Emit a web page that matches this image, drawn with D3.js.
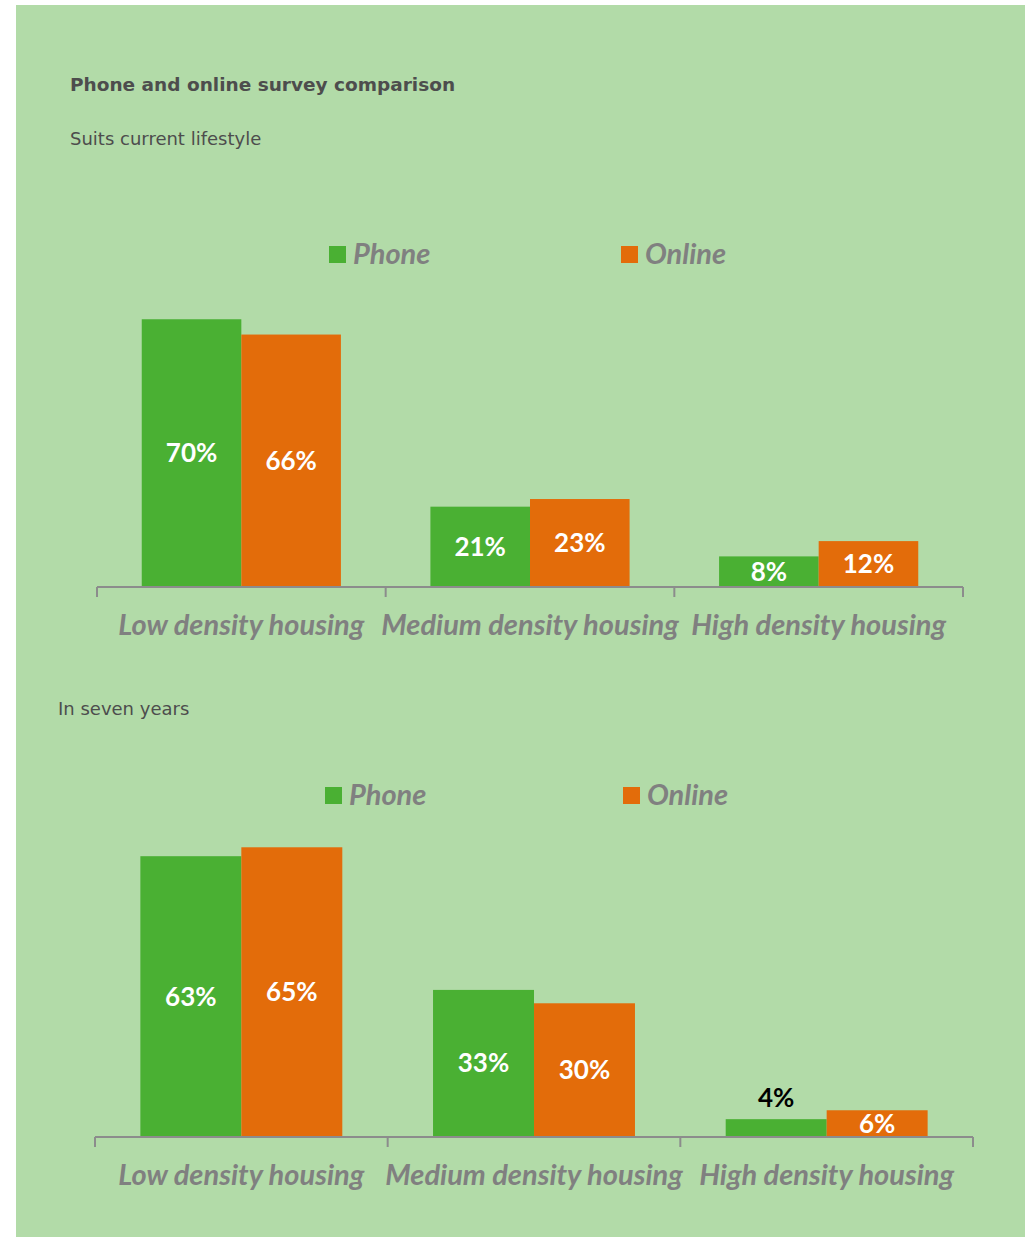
<!DOCTYPE html>
<html>
<head>
<meta charset="utf-8">
<script src="https://cdn.jsdelivr.net/npm/d3@7"></script>
<style>
  html, body { margin: 0; padding: 0; background: #ffffff; }
  svg { display: block; }
</style>
</head>
<body>
<svg id="chart" width="1031" height="1237"></svg>
<script>
// Survey data: share of respondents choosing each housing type
const categories = ["Low density housing", "Medium density housing", "High density housing"];
const seriesNames = ["Phone", "Online"];
const currentPhone = [70, 21, 8];
const currentOnline = [66, 23, 12];
const sevenPhone = [63, 33, 4];
const sevenOnline = [65, 30, 6];

const colors = { Phone: "#4ab033", Online: "#e36c0a" };
const bg = "#b2dba8";
const grey = "#808080";
const textDark = "#4d4d4d";

const svg = d3.select("#chart");

// panel background
svg.append("rect")
  .attr("x", 16).attr("y", 5)
  .attr("width", 1009).attr("height", 1232)
  .attr("fill", bg);

svg.append("text")
  .attr("x", 70).attr("y", 91)
  .attr("fill", textDark)
  .style("font-family", "'DejaVu Sans', sans-serif")
  .style("font-weight", "bold")
  .style("font-size", "18.5px")
  .text("Phone and online survey comparison");

function drawChart(cfg) {
  const { subtitle, subX, subY, phone, online, x0, x1, baseline, yMax, top, legend } = cfg;

  svg.append("text")
    .attr("x", subX).attr("y", subY)
    .attr("fill", textDark)
    .style("font-family", "'DejaVu Sans', sans-serif")
    .style("font-size", "18px")
    .text(subtitle);

  const x = d3.scaleBand().domain(categories).range([x0, x1]).padding(0);
  const bw = x.bandwidth();
  const xs = d3.scaleBand().domain(seriesNames).range([bw * 0.155, bw * 0.845]).padding(0);
  const y = d3.scaleLinear().domain([0, yMax]).range([baseline, top]);

  const rows = categories.map((c, i) => ({ cat: c, Phone: phone[i], Online: online[i] }));

  const g = svg.append("g");
  const groups = g.selectAll("g.cat").data(rows).join("g")
    .attr("transform", d => `translate(${x(d.cat)},0)`);

  const cells = groups.selectAll("g.bar")
    .data(d => seriesNames.map(s => ({ s, v: d[s] })))
    .join("g");

  cells.append("rect")
    .attr("x", d => xs(d.s))
    .attr("y", d => y(d.v))
    .attr("width", xs.bandwidth())
    .attr("height", d => baseline - y(d.v))
    .attr("fill", d => colors[d.s]);

  // value labels: centred in the bar, or above it when the bar is too short
  cells.append("text")
    .attr("x", d => xs(d.s) + xs.bandwidth() / 2)
    .attr("y", d => {
      const h = baseline - y(d.v);
      return h < 22 ? y(d.v) - 12 : (y(d.v) + baseline) / 2 + 9;
    })
    .attr("text-anchor", "middle")
    .attr("fill", d => (baseline - y(d.v) < 22 ? "#000000" : "#ffffff"))
    .style("font-family", "Lato, sans-serif")
    .style("font-weight", "bold")
    .style("font-size", "26px")
    .text(d => d.v + "%");

  // category axis: baseline with boundary ticks between categories
  const ag = svg.append("g").attr("transform", `translate(0,${baseline})`);
  ag.append("line")
    .attr("x1", x0).attr("x2", x1).attr("y1", 0).attr("y2", 0)
    .attr("stroke", "#8c8c8c").attr("stroke-width", 2);
  const edges = categories.map(c => x(c)).concat([x1]);
  ag.selectAll("line.edge").data(edges).join("line")
    .attr("class", "edge")
    .attr("x1", d => d).attr("x2", d => d)
    .attr("y1", 0).attr("y2", 10)
    .attr("stroke", "#8c8c8c").attr("stroke-width", 2);
  ag.selectAll("text.cat").data(categories).join("text")
    .attr("class", "cat")
    .attr("x", d => x(d) + bw / 2)
    .attr("y", 48)
    .attr("text-anchor", "middle")
    .attr("fill", grey)
    .style("font-family", "Lato, sans-serif")
    .style("font-weight", "bold")
    .style("font-style", "italic")
    .style("font-size", "29px")
    .text(d => d);

  // legend
  seriesNames.forEach((s, i) => {
    const lx = legend.xs[i];
    svg.append("rect")
      .attr("x", lx).attr("y", legend.y)
      .attr("width", 17).attr("height", 17)
      .attr("fill", colors[s]);
    svg.append("text")
      .attr("x", lx + 24).attr("y", legend.y + 18)
      .attr("fill", grey)
      .style("font-family", "Lato, sans-serif")
      .style("font-weight", "bold")
      .style("font-style", "italic")
      .style("font-size", "29px")
      .text(s);
  });
}

drawChart({
  subtitle: "Suits current lifestyle", subX: 70, subY: 145,
  phone: currentPhone, online: currentOnline,
  x0: 97, x1: 963, baseline: 587, yMax: 80, top: 281,
  legend: { xs: [329, 621], y: 246 }
});

drawChart({
  subtitle: "In seven years", subX: 58, subY: 715,
  phone: sevenPhone, online: sevenOnline,
  x0: 95, x1: 973, baseline: 1137, yMax: 70, top: 825,
  legend: { xs: [325, 623], y: 787 }
});
</script>
</body>
</html>
